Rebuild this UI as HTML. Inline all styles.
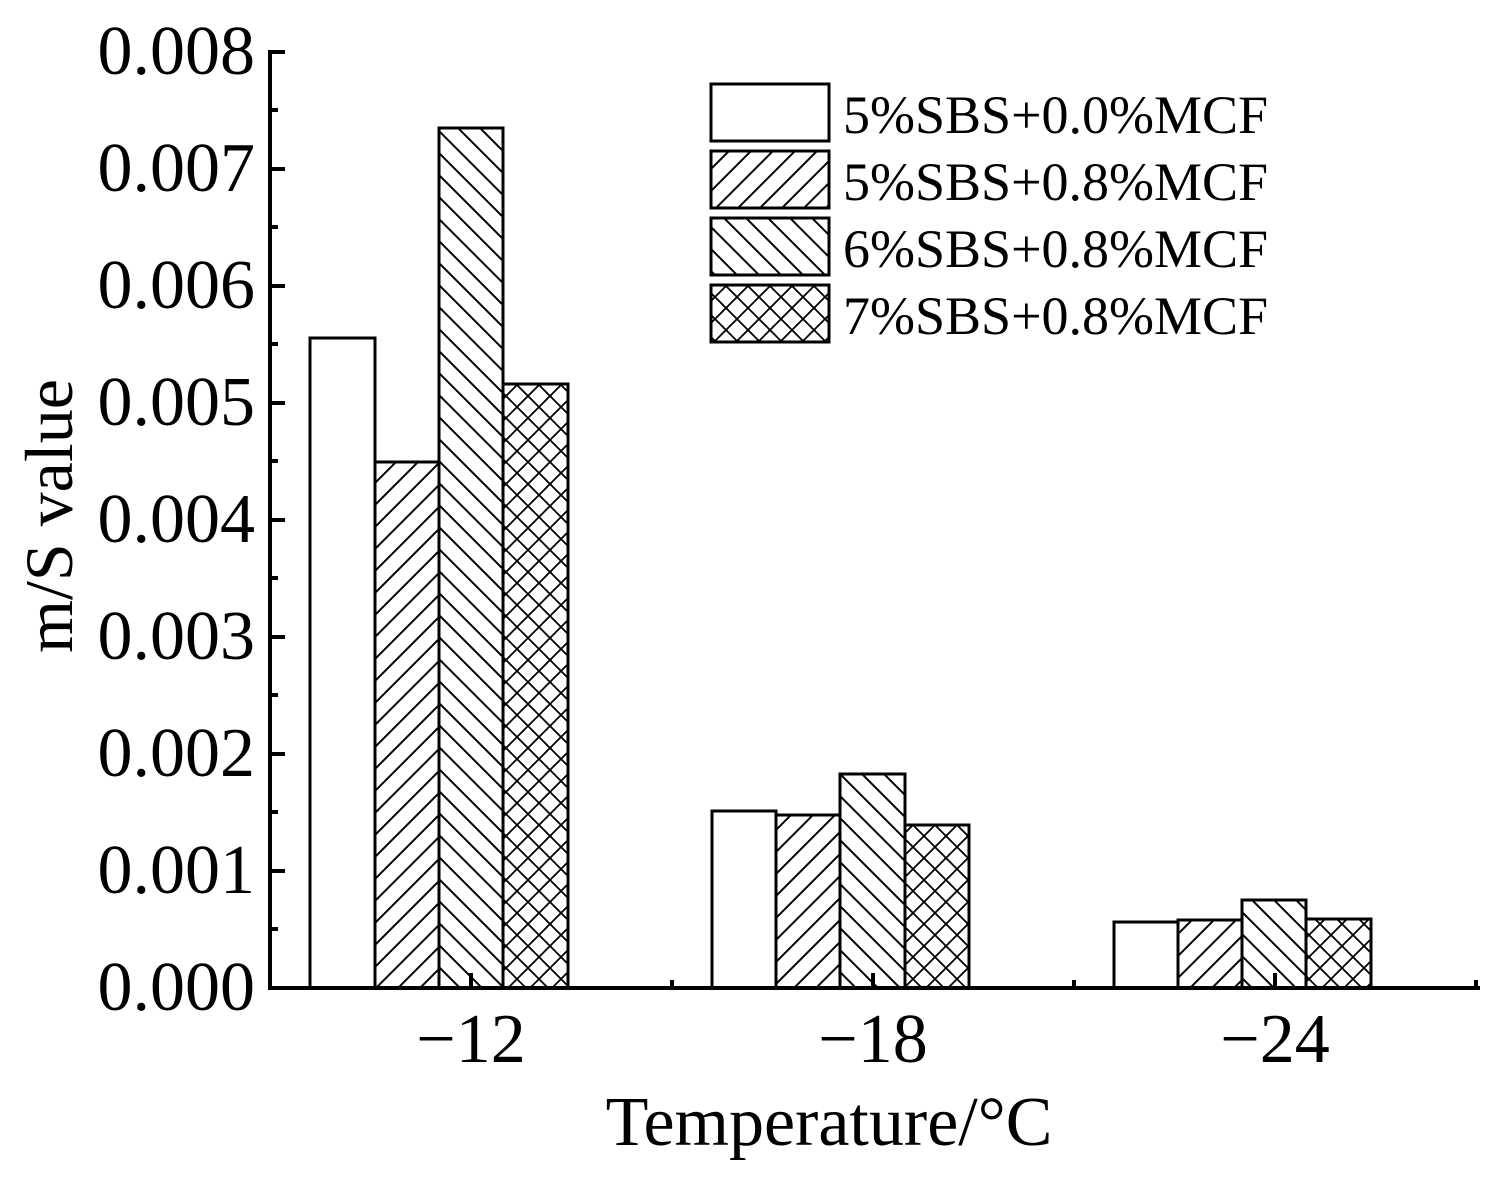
<!DOCTYPE html>
<html><head><style>body{margin:0;background:#fff}</style></head><body>
<svg width="1503" height="1186" xmlns="http://www.w3.org/2000/svg" font-family="Liberation Serif, serif">
<defs>
<pattern id="f" width="22" height="22" patternUnits="userSpaceOnUse"><path d="M-5,27 L27,-5 M-16,16 L16,-16 M6,38 L38,6" stroke="#000" stroke-width="2"/></pattern>
<pattern id="b" width="22" height="22" patternUnits="userSpaceOnUse"><path d="M-5,-5 L27,27 M-16,6 L16,38 M6,-16 L38,16" stroke="#000" stroke-width="2"/></pattern>
<pattern id="x" width="22" height="22" patternUnits="userSpaceOnUse"><path d="M-5,27 L27,-5 M-16,16 L16,-16 M6,38 L38,6 M-5,-5 L27,27 M-16,6 L16,38 M6,-16 L38,16" stroke="#000" stroke-width="1.8"/></pattern>
</defs>
<g stroke="#000" stroke-width="3">
<rect x="310" y="338" width="65" height="650" fill="#fff"/>
<rect x="375" y="462" width="64" height="526" fill="url(#f)"/>
<rect x="439" y="128" width="64" height="860" fill="url(#b)"/>
<rect x="503" y="384" width="65" height="604" fill="url(#x)"/>
<rect x="712" y="811" width="64" height="177" fill="#fff"/>
<rect x="776" y="815" width="64" height="173" fill="url(#f)"/>
<rect x="840" y="774" width="65" height="214" fill="url(#b)"/>
<rect x="905" y="825" width="64" height="163" fill="url(#x)"/>
<rect x="1114" y="922" width="64" height="66" fill="#fff"/>
<rect x="1178" y="920" width="64" height="68" fill="url(#f)"/>
<rect x="1242" y="900" width="64" height="88" fill="url(#b)"/>
<rect x="1306" y="919" width="65" height="69" fill="url(#x)"/>
<rect x="711" y="84" width="118" height="57" fill="#fff"/>
<rect x="711" y="151" width="118" height="57" fill="url(#f)"/>
<rect x="711" y="218" width="118" height="57" fill="url(#b)"/>
<rect x="711" y="285" width="118" height="57" fill="url(#x)"/>
</g>
<g stroke="#000" stroke-width="4" fill="none">
<path d="M270,50 V990 M268,988 H1480"/>
<path d="M270,52 H285 M270,169 H285 M270,286 H285 M270,403 H285 M270,520 H285 M270,637 H285 M270,754 H285 M270,871 H285"/>
<path d="M270,110 H278 M270,227 H278 M270,344 H278 M270,461 H278 M270,578 H278 M270,695 H278 M270,812 H278 M270,929 H278"/>
<path d="M471,988 V973 M873,988 V973 M1275,988 V973 M672,988 V980 M1074,988 V980 M1476,988 V980"/>
</g>
<g font-size="70" text-anchor="end" fill="#000">
<text x="255" y="74">0.008</text><text x="255" y="191">0.007</text><text x="255" y="308">0.006</text><text x="255" y="425">0.005</text><text x="255" y="542">0.004</text><text x="255" y="659">0.003</text><text x="255" y="776">0.002</text><text x="255" y="893">0.001</text><text x="255" y="1010">0.000</text>
</g>
<g font-size="70" text-anchor="middle" fill="#000">
<text x="471" y="1062">−12</text><text x="873" y="1062">−18</text><text x="1275" y="1062">−24</text>
<text x="829" y="1145" font-size="70">Temperature/°C</text>
<text transform="translate(72,516) rotate(-90)" font-size="68">m/S value</text>
</g>
<g font-size="54" fill="#000">
<text x="843" y="133">5%SBS+0.0%MCF</text>
<text x="843" y="200">5%SBS+0.8%MCF</text>
<text x="843" y="267">6%SBS+0.8%MCF</text>
<text x="843" y="334">7%SBS+0.8%MCF</text>
</g>
</svg>
</body></html>
